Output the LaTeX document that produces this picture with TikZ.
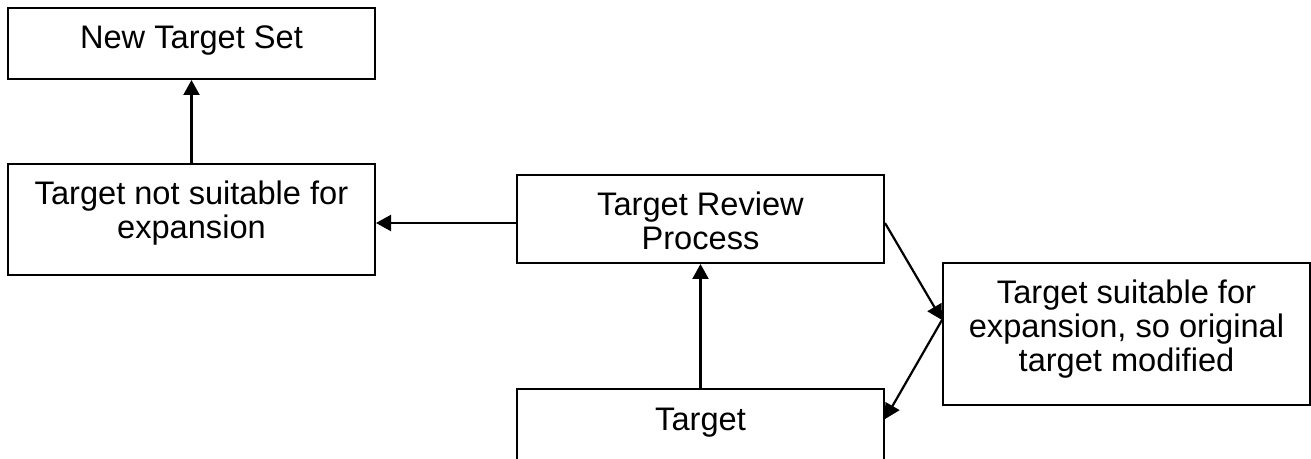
\documentclass[tikz,border=0pt]{standalone}
\usepackage{fontspec}
\setmainfont{Liberation Sans}
\usetikzlibrary{arrows.meta}
\newcommand{\topstrut}{\rule{0pt}{20.8pt}}
\begin{document}
\begin{tikzpicture}[x=0.5pt,y=-0.5pt,
  box/.style={draw=black,line width=1pt,rectangle,inner sep=0pt,minimum width=183.5pt},
  txt/.style={anchor=north,inner sep=0pt,align=center,font=\fontsize{16.3pt}{16.9pt}\selectfont},
  arr/.style={line width=1.1pt,-{Triangle[length=7.5pt,width=8pt]}}]
\useasboundingbox (0,0) rectangle (1311,459);
\clip (0,0) rectangle (1311,459);
\fill[white] (0,0) rectangle (1311,459);
\node[box,minimum height=35.5pt,label={[txt]north:\topstrut New Target Set}] (nts) at (191.5,43.5) {};
\node[box,minimum height=55.5pt,label={[txt]north:\topstrut Target not suitable for\\expansion}] (ns) at (191.5,219.5) {};
\node[box,minimum height=44pt,label={[txt]north:\topstrut Target Review\\Process}] (rev) at (700.5,219) {};
\node[box,minimum height=71pt,label={[txt]north:\topstrut Target suitable for\\expansion, so original\\target modified}] (sui) at (1126.5,334) {};
\node[box,minimum height=44pt,label={[txt]north:\topstrut Target}] (tgt) at (700.5,433) {};
\coordinate (sp) at ([yshift=-29pt]sui.north west);
\draw[arr] (ns.north) -- (nts.south);
\draw[arr] ([yshift=-2pt]rev.west) -- ([yshift=-1.75pt]ns.east);
\draw[arr] (tgt.north) -- (rev.south);
\draw[arr] ([yshift=-2pt]rev.east) -- (sp);
\draw[arr] (sp) -- ([yshift=-15.5pt]tgt.north east);
\end{tikzpicture}
\end{document}
